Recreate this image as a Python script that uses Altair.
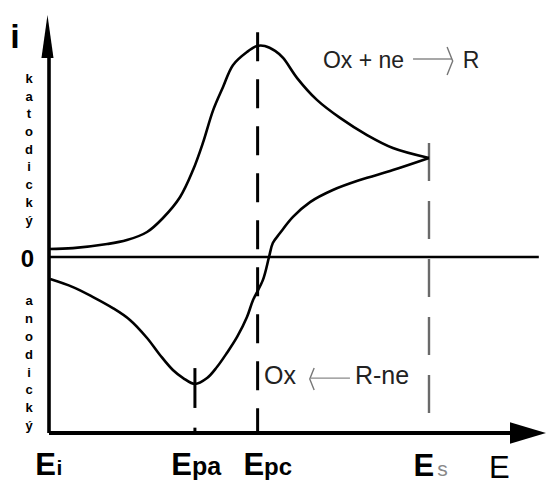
import altair as alt
import pandas as pd

# ---------------- data (E in arbitrary potential units, i in arbitrary current units) ----
# forward (cathodic) scan Ei -> Es
fwd_E = [0, 6.3, 15.3, 20.5, 25.8, 30.0, 34.5, 37.9, 40.5, 43.2, 45.8, 48.4, 52.1,
         54.7, 56.8, 59.5, 61.6, 65.3, 70.5, 76.6, 83.7, 90.5, 100]
fwd_i = [3.8, 4.2, 6.1, 8.0, 11.8, 18.4, 28.3, 41.0, 53.8, 69.3, 80.2, 90.5, 96.7,
         99.5, 99.5, 97.2, 93.9, 84.4, 74.1, 65.6, 57.5, 51.4, 46.7]
# reverse (anodic) scan Es -> Ei
rev_E = [100, 90.5, 81.8, 74.7, 68.7, 64.2, 60.8, 58.9, 57.9, 56.3, 53.7, 52.1, 49.5,
         46.8, 44.2, 41.6, 38.4, 35.3, 32.6, 29.2, 25.8, 21.3, 16.8, 11.6, 6.3, 0.3]
rev_i = [46.7, 41.0, 36.3, 31.6, 25.9, 18.9, 11.3, 6.6, 0, -10.8, -20.3, -28.3, -37.7,
         -45.3, -51.9, -57.1, -59.9, -57.1, -53.3, -46.2, -38.2, -29.7, -24.1, -18.9,
         -14.2, -10.4]

E_PA, E_PC, E_S = 38.4, 54.9, 100.0
I_AXIS = -83.0          # level of the E axis
I_TOP = 100.0           # top of the i axis line
E_END = 125.0           # end of the E axis line
ZERO_END = 128.9        # end of the zero line
I_PC_TOP = 106.0        # top of the Epc dashed line
I_S_TOP = 46.7 + 7.1    # top of the Es dashed line

side_top = "katodický"
side_bottom = "anodický"

# ---------------- scales ----------------
X_DOMAIN = [-12.895, 130.79]
Y_DOMAIN = [-105.66, 121.23]
xs = alt.Scale(domain=X_DOMAIN, nice=False, zero=False)
ys = alt.Scale(domain=Y_DOMAIN, nice=False, zero=False)
FONT = "Liberation Sans"


def X(f="E"):
    return alt.X(f, type="quantitative", scale=xs, axis=None)


def Y(f="i"):
    return alt.Y(f, type="quantitative", scale=ys, axis=None)


def rules(rows, **mk):
    df = pd.DataFrame(rows, columns=["E", "E2", "i", "i2"])
    return alt.Chart(df).mark_rule(**mk).encode(
        x=X(), x2=alt.X2("E2"), y=Y(), y2=alt.Y2("i2"))


def label(text, E, i, size, weight="normal", color="black", align="left",
          baseline="alphabetic", **kw):
    df = pd.DataFrame({"E": [E], "i": [i], "t": [text]})
    return alt.Chart(df).mark_text(
        font=FONT, fontSize=size, fontWeight=weight, color=color, align=align,
        baseline=baseline, **kw).encode(x=X(), y=Y(), text="t:N")


def head(E, i, shape, size, filled=True, color="black", sw=0):
    df = pd.DataFrame({"E": [E], "i": [i]})
    return alt.Chart(df).mark_point(
        shape=shape, size=size, filled=filled, color=color, opacity=1,
        strokeWidth=sw).encode(x=X(), y=Y())


# ---------------- curve ----------------
curve = pd.DataFrame({
    "E": fwd_E + rev_E,
    "i": fwd_i + rev_i,
    "branch": ["f"] * len(fwd_E) + ["r"] * len(rev_E),
    "k": list(range(len(fwd_E))) + list(range(len(rev_E))),
})
line = alt.Chart(curve).mark_line(
    color="black", strokeWidth=2.6, interpolate="catmull-rom").encode(
    x=X(), y=Y(), detail="branch:N", order="k:Q")

layers = [
    # axes
    rules([[0, 0, I_AXIS, I_TOP]], color="black", strokeWidth=3.6),
    rules([[0, E_END, I_AXIS, I_AXIS]], color="black", strokeWidth=4),
    rules([[0, ZERO_END, 0, 0]], color="black", strokeWidth=2.6),
    # dashed potential markers
    rules([[E_PC, E_PC, I_PC_TOP, I_AXIS]], color="black", strokeWidth=3,
          strokeDash=[29, 18]),
    rules([[E_S, E_S, I_S_TOP, I_AXIS]], color="#6a6a6a", strokeWidth=2.4,
          strokeDash=[38, 20]),
    rules([[E_PA, E_PA, -52.4, -71.2], [E_PA, E_PA, -80.5, I_AXIS]],
          color="black", strokeWidth=3),
    # reaction arrows
    rules([[95.8, 106.0, 93.4, 93.4], [68.9, 79.2, -57.1, -57.1]],
          color="#8a8a8a", strokeWidth=1.3),
    line,
    head(-0.4, 104.0, "M0,-1L0.28,1L-0.28,1Z", 43 * 43),
    head(126.05, I_AXIS, "M1,0L-1,-0.6L-1,0.6Z", 36 * 36),
    head(105.5, 92.5, "M-0.2,-1L0.2,0L-0.2,1", 28 * 28, filled=False,
         color="#777777", sw=1.4),
    head(69.2, -57.5, "M0.2,-1L-0.2,0L0.2,1", 22 * 22, filled=False,
         color="#777777", sw=1.4),
    # texts
    label("i", -8.95, 98.6, 34, weight="bold", align="center"),
    label("0", -5.66, -4.7, 24, weight="bold", align="center"),
    label("\n".join(side_top), -5.26, 86.8, 13, weight="bold", align="center",
          baseline="top", lineBreak="\n", lineHeight=17.7),
    label("\n".join(side_bottom), -5.26, -17.9, 13, weight="bold",
          align="center", baseline="top", lineBreak="\n", lineHeight=17.9),
    label("Ox + ne", 72.1, 89.2, 23, color="#222222"),
    label("R", 108.9, 89.2, 23, color="#222222"),
    label("Ox", 56.6, -59.9, 25, color="#222222"),
    label("R-ne", 80.5, -59.9, 25, color="#222222"),
    label("E", -3.6, -102.8, 31, weight="bold"),
    label("i", 2.0, -102.8, 21, weight="bold"),
    label("E", 32.2, -102.8, 31, weight="bold"),
    label("pa", 37.6, -102.8, 25, weight="bold"),
    label("E", 51.2, -102.8, 31, weight="bold"),
    label("pc", 56.6, -102.8, 24, weight="bold"),
    label("E", 95.9, -103.3, 31, weight="bold"),
    label("s", 102.2, -103.3, 21, color="#888888"),
    label("E", 115.8, -104.2, 31),
]

chart = alt.layer(*layers).properties(
    width=546, height=481, padding=0,
    autosize=alt.AutoSizeParams(type="none"),
    background="white",
).configure_view(stroke=None)

chart.save("out.html", embed_options={"renderer": "svg", "actions": False})
